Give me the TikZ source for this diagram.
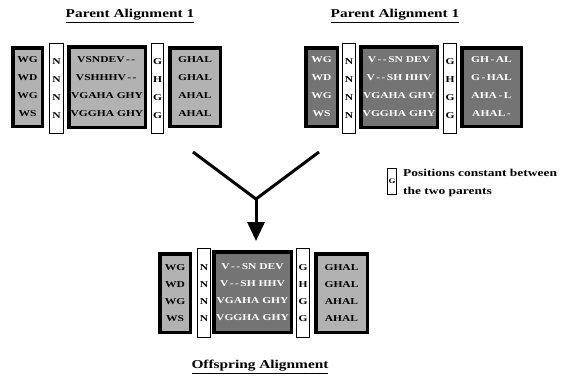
\documentclass[tikz,border=0pt]{standalone}
\usepackage{fontspec}
\setmainfont{Liberation Serif}[FakeStretch=1.28]
\usetikzlibrary{arrows.meta}
\definecolor{lg}{RGB}{178,178,178}
\definecolor{dg}{RGB}{116,116,116}
\newcommand{\gp}{\,-\,-\,}
\begin{document}
\begin{tikzpicture}[x=1pt,y=-1pt,
  blk/.style={draw=black,line width=3.5pt,inner sep=0pt,outer sep=0pt,align=center,
    font=\bfseries\fontsize{9}{18}\selectfont},
  blkb/.style={blk,font=\bfseries\fontsize{9}{17}\selectfont},
  col/.style={draw=black,line width=1.4pt,fill=white,inner sep=0pt,align=center,
    font=\bfseries\fontsize{9}{18}\selectfont},
  colb/.style={col,font=\bfseries\fontsize{9}{17}\selectfont},
  light/.style={fill=lg,text=black},
  dark/.style={fill=dg,text=white},
  ttl/.style={font=\bfseries\fontsize{12}{14}\selectfont,inner sep=0pt},
  conn/.style={line width=3pt}
]
\useasboundingbox (0,0) rectangle (569,381);
% titles
\node[ttl] (t1) at (130,16) {\underline{Parent Alignment 1}};
\node[ttl] (t2) at (395,16) {\underline{Parent Alignment 1}};
\node[ttl] (t3) at (260,367) {\underline{Offspring Alignment}};
% parent 1
\node[blk,light,minimum width=76.5,minimum height=80.5] (a1m) at (107,87) {VSNDEV\gp\\VSHHHV\gp\\VGAHA GHY\\VGGHA GHY};
\node[blk,light,minimum width=29.5,minimum height=78.5] (a1l) at (27.5,87) {WG\\WD\\WG\\WS};
\node[col,minimum width=13.5,minimum height=89.5] (a1n) at (56.5,88.5) {N\\N\\N\\N};
\node[col,minimum width=11.5,minimum height=89.5] (a1g) at (157.5,88.5) {G\\H\\G\\G};
\node[blk,light,minimum width=50.5,minimum height=78.5] (a1r) at (195,87) {GHAL\\GHAL\\AHAL\\AHAL};
% parent 2
\node[blk,dark,minimum width=31.5,minimum height=78.5] (a2l) at (321.5,87) {WG\\WD\\WG\\WS};
\node[col,minimum width=12.5,minimum height=89.5] (a2n) at (349,88.5) {N\\N\\N\\N};
\node[blk,dark,minimum width=76.5,minimum height=80.5] (a2m) at (399,87) {V\gp SN DEV\\V\gp SH HHV\\VGAHA GHY\\VGGHA GHY};
\node[col,minimum width=12.5,minimum height=89.5] (a2g) at (450,88.5) {G\\H\\G\\G};
\node[blk,dark,minimum width=59.5,minimum height=78.5] (a2r) at (491.5,87) {GH\,-\,AL\\G\,-\,HAL\\AHA\,-\,L\\AHAL\,-};
% offspring
\node[blkb,light,minimum width=30.5,minimum height=78.5] (ol) at (175,293) {WG\\WD\\WG\\WS};
\node[blkb,dark,minimum width=77.5,minimum height=80.5] (om) at (252.5,292) {V\gp SN DEV\\V\gp SH HHV\\VGAHA GHY\\VGGHA GHY};
\node[colb,minimum width=12.5,minimum height=88.5] (on) at (204,293) {N\\N\\N\\N};
\node[colb,minimum width=12.5,minimum height=88.5] (og) at (303,293) {G\\H\\G\\G};
\node[blkb,light,minimum width=51.5,minimum height=78.5] (or) at (341.5,293) {GHAL\\GHAL\\AHAL\\AHAL};
% merge arrow
\coordinate (vl) at (193,152);
\coordinate (vr) at (319,152);
\coordinate (vj) at (256,199);
\coordinate (tip) at (256,241);
\draw[conn,line join=miter] (vl) -- (vj) -- (vr);
\draw[conn,-{Triangle[length=19pt,width=17pt]}] (vj) -- (tip);
% legend
\node[col,minimum width=8.5,minimum height=25.5,font=\bfseries\fontsize{7}{8}\selectfont] (lg) at (392,181.5) {G};
\node[anchor=west,align=left,inner sep=0pt,font=\bfseries\fontsize{10.5}{18}\selectfont] (lt) at (403,183) {Positions constant between\\the two parents};
\end{tikzpicture}
\end{document}
